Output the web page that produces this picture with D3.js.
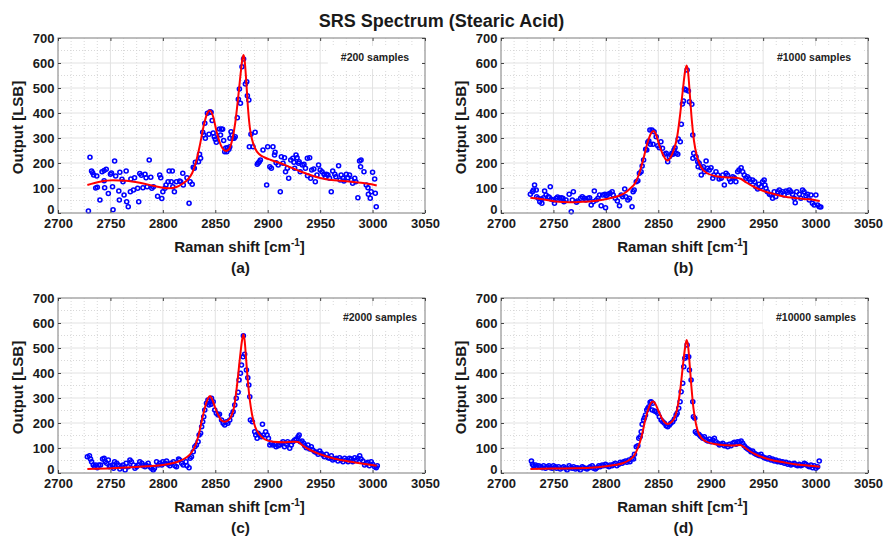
<!DOCTYPE html>
<html><head><meta charset="utf-8">
<script src="https://cdn.jsdelivr.net/npm/d3@7"></script>
<style>
body{margin:0;background:#fff}
svg{display:block}
text{font-family:"Liberation Sans",Arial,sans-serif;font-weight:bold;fill:#1a1a1a}
</style>
</head><body>
<svg id="chart" width="883" height="538"></svg>
<script>
// ---------- data ----------
const chartTitle = "SRS Spectrum (Stearic Acid)";
const xTicks = [2700, 2750, 2800, 2850, 2900, 2950, 3000, 3050];
const yTicks = [0, 100, 200, 300, 400, 500, 600, 700];
const panelLabels = ["(a)", "(b)", "(c)", "(d)"];
const sampleLabels = ["#200 samples", "#1000 samples", "#2000 samples", "#10000 samples"];

const pointsA = [[2729,8],[2730.5,223],[2732,168],[2733,161],[2734,152],[2737,148],[2736,100],[2737.5,103],[2740,52],[2742,165],[2744,170],[2746,175],[2744,129],[2744.5,101],[2748,78],[2750,155],[2751,160],[2752,105],[2752.5,13],[2754,208],[2755,148],[2758,88],[2758.5,52],[2759,163],[2761,135],[2762,125],[2763,72],[2765,168],[2765.5,45],[2767,25],[2769,85],[2769.5,136],[2772,92],[2773,141],[2776,99],[2777,45],[2778,158],[2779.5,151],[2781,101],[2783,155],[2784,141],[2785,105],[2787,212],[2788.5,143],[2789.5,99],[2791,105],[2795,67],[2799,58],[2797,152],[2798,141],[2800,85],[2802,99],[2803,112],[2806,168],[2809,168],[2805,125],[2808,125],[2809.5,105],[2811,85],[2813,125],[2816,128],[2817,125],[2819,159],[2819.5,112],[2823,141],[2825,39],[2826,125],[2828,115],[2829,183],[2830,179],[2831,203],[2834,205],[2835,235],[2836,219],[2838,323],[2839,312],[2840,359],[2840.5,299],[2842.5,399],[2844,315],[2845,405],[2846,403],[2847,370],[2848,320],[2849,305],[2850,295],[2851,283],[2854,336],[2855,312],[2856,336],[2857,335],[2858,290],[2859,245],[2860,260],[2861,245],[2861.6,261],[2863,255],[2863.8,265],[2864,299],[2865,325],[2866,312],[2867,299],[2868,299],[2869,305],[2871,381],[2872,455],[2873,496],[2874,439],[2875.5,585],[2877,616],[2878.7,516],[2880,525],[2880.6,469],[2882,452],[2882.5,265],[2884,315],[2886,265],[2888,323],[2890,195],[2891,200],[2892,205],[2893,212],[2895.5,252],[2899,112],[2900,265],[2902,185],[2903.5,179],[2905,265],[2906.5,232],[2907,243],[2908,201],[2910,192],[2912,85],[2913,225],[2914.6,199],[2916,221],[2917,165],[2918.7,179],[2920,139],[2922,212],[2924,219],[2925,203],[2925.7,179],[2927,232],[2928,221],[2929.5,199],[2930,205],[2931,165],[2933,192],[2934.6,195],[2936,179],[2937.8,219],[2938,149],[2940,221],[2941,139],[2942,172],[2944,176],[2945.4,125],[2947,152],[2948.5,192],[2950,172],[2951.8,165],[2953.7,155],[2955,145],[2956,155],[2957.5,152],[2959,139],[2960.6,85],[2962,168],[2964,155],[2965,145],[2967.6,189],[2969,132],[2970,152],[2971.8,139],[2972.7,128],[2975,155],[2976.5,141],[2978,152],[2979.7,132],[2981,119],[2983,139],[2984,125],[2986,61],[2987.6,208],[2988.6,185],[2989,212],[2991.8,165],[2994,112],[2995.6,101],[2996,75],[2997.8,59],[2998.7,85],[3000,163],[3002,136],[3002.6,79],[3003.5,25]];

const fitA = [[2728,112],[2740,125],[2752,131],[2765,129],[2778,121],[2791,109],[2800,101],[2806,99],[2813,104],[2819,118],[2824,135],[2828,160],[2831,195],[2835,265],[2839,350],[2842,395],[2845,410],[2848,385],[2851,330],[2854,285],[2857,258],[2860,248],[2863,255],[2866,290],[2869,360],[2872,470],[2874.5,570],[2876,620],[2877,632],[2878,610],[2879.5,530],[2881,430],[2883,340],[2885,295],[2888,258],[2892,235],[2897,222],[2903,212],[2913,198],[2922,182],[2932,165],[2942,150],[2951,139],[2961,132],[2970,129],[2980,125],[2989,121],[2999,115],[3004,110]];

const pointsB = [[2728,75],[2730,85],[2731,92],[2732,112],[2733.6,92],[2734,65],[2735.5,59],[2737,45],[2739,39],[2738.5,56],[2740.6,61],[2741.6,88],[2743,72],[2745,65],[2746,63],[2747,105],[2748,55],[2750,52],[2751,39],[2752.7,59],[2754,64],[2756,59],[2757.5,61],[2759,59],[2760,45],[2762,52],[2765,75],[2767,5],[2768,52],[2769,85],[2772,43],[2773,48],[2776,59],[2777.5,65],[2779.5,59],[2781,52],[2783,59],[2784.5,61],[2786,32],[2788,45],[2789,88],[2791,52],[2792.5,59],[2794,72],[2795.5,29],[2797,72],[2799,75],[2799.7,21],[2800.5,69],[2802,75],[2804,79],[2806,85],[2807,72],[2809,59],[2811,48],[2813,29],[2814.6,72],[2816,65],[2818,96],[2819,65],[2821,52],[2822.5,59],[2825,25],[2826,85],[2827,92],[2829,125],[2830.5,129],[2832,159],[2833.6,165],[2834.6,188],[2836,212],[2838,255],[2839,252],[2840,283],[2841,288],[2842,332],[2842.5,275],[2844,332],[2845,275],[2846,325],[2848,305],[2849.5,269],[2851,261],[2852.5,285],[2854,259],[2856,235],[2857.5,239],[2859,205],[2860.5,225],[2862,232],[2863,239],[2864,235],[2865,252],[2866,261],[2867,239],[2868.6,235],[2869,296],[2871,285],[2872,355],[2873,436],[2874,448],[2875,496],[2876.5,492],[2877.5,572],[2878.7,488],[2879.7,445],[2882,435],[2882.9,312],[2883,219],[2883.8,239],[2886,225],[2887.6,205],[2888,185],[2889,199],[2890.8,181],[2891,152],[2893,185],[2894,165],[2895.6,208],[2897,179],[2898.7,172],[2900.3,181],[2902,139],[2903,152],[2905,165],[2906.7,152],[2908,136],[2910,139],[2911.5,152],[2913,112],[2914.6,159],[2916,152],[2917.8,136],[2919,125],[2921,145],[2922.5,141],[2924,125],[2925.7,165],[2927,172],[2929,181],[2930.5,165],[2932,152],[2933.6,139],[2935,145],[2936.8,136],[2938,125],[2940,132],[2942,125],[2943,105],[2944.8,96],[2946,115],[2948,105],[2949.5,125],[2951,132],[2951.7,112],[2952.7,99],[2954,85],[2956,75],[2957.5,72],[2959,59],[2960.6,85],[2962,65],[2964,85],[2965.4,92],[2967,79],[2968.6,85],[2970,72],[2971.8,88],[2973.4,83],[2975,92],[2976.5,85],[2978,75],[2979.7,59],[2980.6,41],[2982,85],[2984.5,75],[2986,59],[2987.6,92],[2989,85],[2990.8,69],[2992.4,75],[2994,52],[2995.6,72],[2997,39],[2998.7,32],[3000.3,72],[3002,32],[3003.5,25],[3005,24]];

const fitB = [[2728,61],[2740,55],[2752,46],[2765,43],[2778,45],[2791,49],[2803,58],[2812,68],[2818,80],[2823,97],[2828,120],[2832,160],[2836,220],[2840,285],[2843,318],[2845.5,328],[2848,312],[2851,270],[2854,238],[2857,215],[2859,210],[2862,225],[2865,255],[2868,305],[2871,400],[2873.5,495],[2875.5,565],[2877,590],[2878.5,560],[2880,480],[2882,370],[2884,290],[2887,225],[2891,182],[2897,158],[2907,146],[2916,142],[2924,141],[2929,136],[2934,122],[2942,103],[2951,87],[2961,75],[2970,66],[2980,60],[2989,56],[2999,52],[3004,48]];

const pointsC = [[2728,65],[2730,69],[2731,56],[2732,45],[2733.6,32],[2735,25],[2736,32],[2737.5,21],[2739,32],[2740.6,32],[2742.5,56],[2744,59],[2745,45],[2746.4,39],[2748,52],[2749,25],[2750,29],[2752,32],[2753,19],[2754,45],[2756,39],[2757.5,32],[2759,16],[2760.6,25],[2762,32],[2764,12],[2765,39],[2767,25],[2768.6,52],[2770,45],[2772,32],[2773.4,19],[2775,25],[2776.5,32],[2778,45],[2780,39],[2781,29],[2783,25],[2784,32],[2786,39],[2787.6,25],[2789,19],[2790.8,12],[2792,19],[2794,45],[2795.6,32],[2797,39],[2799,32],[2800,45],[2802,39],[2803.5,48],[2805,35],[2806.7,29],[2808,39],[2810,45],[2811.5,29],[2813,25],[2815,56],[2816,52],[2818,39],[2819.4,32],[2822,45],[2823,29],[2825,21],[2826,59],[2827.3,65],[2829,85],[2830.5,105],[2832,112],[2833.6,125],[2834.6,152],[2836,159],[2837,185],[2838,205],[2839,225],[2840,252],[2841.6,279],[2843,292],[2844.6,288],[2846.4,299],[2844,272],[2846,275],[2848,285],[2849.5,252],[2851,239],[2852.7,232],[2854,235],[2856,212],[2857.5,199],[2859,192],[2860.6,205],[2862,199],[2863.8,212],[2865.4,232],[2867,245],[2868.6,272],[2870,299],[2871.8,323],[2872.7,372],[2874,399],[2875,432],[2876.5,465],[2878,475],[2876.8,549],[2879.7,412],[2881,381],[2882,352],[2882.9,305],[2883.5,212],[2885.4,205],[2887.6,165],[2888.6,152],[2889.9,139],[2890.8,159],[2892.4,152],[2894,145],[2895,195],[2896,152],[2898,165],[2899.4,152],[2900.7,139],[2902,112],[2903.5,119],[2905,112],[2906.7,115],[2908,105],[2910,109],[2911.5,112],[2913,119],[2914.6,125],[2916,105],[2917.8,115],[2919,125],[2921,99],[2922.5,112],[2924,125],[2925.7,132],[2927.3,136],[2929,145],[2930,152],[2931,125],[2932.7,128],[2934.3,119],[2935.3,109],[2936.8,101],[2938.4,112],[2940,96],[2941.6,105],[2943,92],[2944.8,85],[2946.3,83],[2948,75],[2949.6,88],[2951,79],[2952.7,72],[2954,65],[2956,75],[2957.5,61],[2959,59],[2960.7,69],[2962,52],[2963.8,56],[2965.4,59],[2967,48],[2968.6,61],[2970,52],[2971.8,45],[2973.4,59],[2975,52],[2976.6,45],[2978,59],[2979.7,56],[2981,45],[2983,61],[2984.5,52],[2986,59],[2987.7,69],[2989,56],[2990.8,48],[2992.4,32],[2994,39],[2995.6,43],[2997,29],[2998.7,45],[3000,35],[3002,25],[3003.5,21],[3004.5,29]];

const fitC = [[2728,16],[2752,19],[2770,23],[2785,27],[2800,32],[2810,40],[2816,48],[2822,61],[2827,80],[2831,110],[2834,150],[2838,225],[2841,275],[2843,298],[2845,308],[2847,295],[2850,260],[2853,230],[2856,210],[2859,205],[2862,210],[2865,225],[2868,265],[2871,360],[2873.5,460],[2875.5,530],[2876.8,555],[2878,530],[2879.5,450],[2881,370],[2883,290],[2885,235],[2888,185],[2892,155],[2897,135],[2905,125],[2915,123],[2925,125],[2929,124],[2933,111],[2940,93],[2950,75],[2962,59],[2975,48],[2988,39],[3004,29]];

const pointsD = [[2729,48],[2730,35],[2731,29],[2733,32],[2734.3,25],[2736,29],[2737.5,25],[2739.4,21],[2740.6,29],[2742.5,19],[2744,25],[2745.7,29],[2747,21],[2749,19],[2750,29],[2752,25],[2753,19],[2755,25],[2756.5,16],[2758.4,21],[2759.7,25],[2761.6,19],[2763,12],[2765,29],[2766,21],[2768,19],[2769.2,25],[2771,16],[2772.4,21],[2774,19],[2775.6,12],[2777.5,25],[2778.7,21],[2780.6,19],[2782,16],[2784,21],[2785,25],[2787,29],[2788.3,19],[2790,16],[2791.4,21],[2793.3,29],[2794.6,25],[2796.5,32],[2797.8,29],[2799.7,35],[2801,29],[2803,25],[2804,32],[2806,29],[2807.3,35],[2809,39],[2810.5,29],[2812.4,35],[2813.7,43],[2815.6,39],[2817,45],[2818.7,48],[2820,43],[2822,52],[2823,45],[2825,59],[2826.4,56],[2827.3,75],[2829,105],[2830.5,109],[2831.4,139],[2832.7,145],[2833.7,165],[2834.6,195],[2836,212],[2836.8,221],[2837.8,232],[2839,252],[2840,259],[2841,265],[2842.2,283],[2843.2,285],[2844.8,279],[2844.2,252],[2846.4,248],[2848,245],[2849.5,239],[2851,225],[2852.7,212],[2854.3,205],[2855.9,199],[2857.5,189],[2859,185],[2860.6,192],[2862,199],[2863.8,205],[2865.4,216],[2867,232],[2868,239],[2869.5,259],[2870.8,285],[2871.8,325],[2873.3,359],[2874.3,425],[2875.3,459],[2876.5,465],[2877.5,512],[2879,465],[2879.7,412],[2881.3,372],[2882.9,285],[2883.5,225],[2884.8,219],[2885.4,165],[2886.7,159],[2888.6,155],[2889.9,149],[2890.8,145],[2892.4,139],[2894,145],[2895.6,132],[2897.2,128],[2898.8,136],[2900.3,125],[2902,132],[2903.5,139],[2905,125],[2906.7,119],[2908.3,112],[2909.9,115],[2911.5,119],[2913,109],[2914.6,112],[2916.2,105],[2917.8,115],[2919.4,109],[2921,119],[2922.6,123],[2924.2,115],[2925.7,125],[2927.3,123],[2929,128],[2930.5,119],[2932,109],[2933.7,101],[2935.3,96],[2936.8,92],[2938.4,85],[2940,88],[2941.6,79],[2943.2,75],[2944.8,72],[2946.4,69],[2948,75],[2949.6,65],[2951.2,61],[2952.7,59],[2954.3,56],[2955.9,61],[2957.5,52],[2959,56],[2960.6,48],[2962.2,52],[2963.8,45],[2965.4,48],[2967,43],[2968.6,45],[2970.2,39],[2971.8,43],[2973.4,35],[2975,39],[2976.5,32],[2978.1,35],[2979.7,39],[2981.3,32],[2982.9,29],[2984.5,35],[2986,29],[2987.7,32],[2989.3,39],[2990.8,35],[2992.4,29],[2994,25],[2995.6,32],[2997.2,21],[2998.7,29],[3000.3,19],[3002,25],[3003.5,48]];

const fitD = [[2728,16],[2752,18],[2770,19],[2785,21],[2800,27],[2810,33],[2816,39],[2822,51],[2827,70],[2831,105],[2834,145],[2838,220],[2841,262],[2843,280],[2845,286],[2847,278],[2850,250],[2853,222],[2856,203],[2859,196],[2862,202],[2865,217],[2868,255],[2871,335],[2873.5,430],[2875.5,500],[2877,532],[2878.5,505],[2880,430],[2881.5,350],[2883.5,260],[2886,195],[2889,153],[2895,127],[2905,115],[2915,111],[2922,110],[2928,112],[2932,103],[2937,88],[2943,74],[2950,62],[2958,52],[2968,44],[2980,35],[2994,29],[3004,25]];

const pointSets = [pointsA, pointsB, pointsC, pointsD];
const fitSets = [fitA, fitB, fitC, fitD];

// ---------- layout ----------
const layout = [
  {left: 58,  top: 38,  annoX: 375},
  {left: 501, top: 38,  annoX: 814},
  {left: 58,  top: 298, annoX: 380},
  {left: 501, top: 298, annoX: 816}
];
const W = 367, H = 175;

const svg = d3.select("#chart");
svg.append("rect").attr("width", 883).attr("height", 538).attr("fill", "#fff");

svg.append("text").attr("x", 441.5).attr("y", 20.5).attr("dy", "0.35em")
  .attr("text-anchor", "middle").style("font-size", "18px").text(chartTitle);

const x = d3.scaleLinear().domain([2700, 3050]).range([0, W]);
const y = d3.scaleLinear().domain([0, 700]).range([H, 0]);
const minorX = d3.range(2700, 3050.01, 12.5).filter(v => v % 50 !== 0);
const minorY = d3.range(50, 700, 100);

layout.forEach((L, i) => {
  const g = svg.append("g").attr("transform", `translate(${L.left},${L.top})`);
  g.append("rect").attr("width", W).attr("height", H).attr("fill", "#fff");

  // minor grid
  g.selectAll(".mx").data(minorX).join("line")
    .attr("x1", d => x(d)).attr("x2", d => x(d)).attr("y1", 0).attr("y2", H)
    .attr("stroke", "#cfcfcf").attr("stroke-width", 0.8).attr("stroke-dasharray", "1,2");
  g.selectAll(".my").data(minorY).join("line")
    .attr("y1", d => y(d)).attr("y2", d => y(d)).attr("x1", 0).attr("x2", W)
    .attr("stroke", "#cfcfcf").attr("stroke-width", 0.8).attr("stroke-dasharray", "1,2");
  // major grid
  g.selectAll(".gx").data(xTicks).join("line")
    .attr("x1", d => x(d)).attr("x2", d => x(d)).attr("y1", 0).attr("y2", H)
    .attr("stroke", "#e2e2e2").attr("stroke-width", 1);
  g.selectAll(".gy").data(yTicks).join("line")
    .attr("y1", d => y(d)).attr("y2", d => y(d)).attr("x1", 0).attr("x2", W)
    .attr("stroke", "#e2e2e2").attr("stroke-width", 1);

  // annotation box
  const ann = g.append("g");
  const box = ann.append("rect").attr("fill", "#fff");
  const at = ann.append("text").attr("x", L.annoX - L.left).attr("y", 19.5).attr("dy", "0.35em")
    .attr("text-anchor", "middle").style("font-size", "10.5px").style("fill", "#222")
    .text(sampleLabels[i]);
  const tw = at.node().getComputedTextLength();
  const bx0 = L.annoX - L.left - tw / 2 - 13;
  const bx1 = Math.min(W - 1, L.annoX - L.left + tw / 2 + 13);
  box.attr("x", bx0).attr("y", 8).attr("width", bx1 - bx0).attr("height", 23);

  // clip
  const cid = "clip" + i;
  g.append("clipPath").attr("id", cid).append("rect").attr("x", -3).attr("y", -3).attr("width", W + 6).attr("height", H + 6);
  const plot = g.append("g").attr("clip-path", `url(#${cid})`);

  plot.selectAll("circle").data(pointSets[i]).join("circle")
    .attr("cx", d => x(d[0])).attr("cy", d => y(d[1])).attr("r", 2)
    .attr("fill", "none").attr("stroke", "#0000ff").attr("stroke-width", 1.6);

  const line = d3.line().x(d => x(d[0])).y(d => y(d[1])).curve(d3.curveMonotoneX);
  plot.append("path").datum(fitSets[i]).attr("d", line)
    .attr("fill", "none").attr("stroke", "#ff0000").attr("stroke-width", 2);

  // frame
  g.append("rect").attr("width", W).attr("height", H).attr("fill", "none")
    .attr("stroke", "#8a8a8a").attr("stroke-width", 1);

  // axes
  const ax = d3.axisBottom(x).tickValues(xTicks).tickSizeInner(-3).tickSizeOuter(0).tickPadding(5.5).tickFormat(d3.format("d"));
  const gx = g.append("g").attr("transform", `translate(0,${H})`).call(ax);
  const ay = d3.axisLeft(y).tickValues(yTicks).tickSizeInner(-3).tickSizeOuter(0).tickPadding(3.5).tickFormat(d3.format("d"));
  const gy = g.append("g").call(ay);
  const axT = d3.axisTop(x).tickValues(xTicks).tickSizeInner(-3).tickSizeOuter(0).tickFormat("");
  const gt = g.append("g").call(axT);
  const ayR = d3.axisRight(y).tickValues(yTicks).tickSizeInner(-3).tickSizeOuter(0).tickFormat("");
  const gr = g.append("g").attr("transform", `translate(${W},0)`).call(ayR);
  [gx, gy, gt, gr].forEach(a => {
    a.select(".domain").remove();
    a.selectAll(".tick line").attr("stroke", "#444");
    a.selectAll(".tick text").style("font-size", "13px").style("font-family", '"Liberation Sans",Arial,sans-serif')
      .style("font-weight", "bold").attr("fill", "#1a1a1a");
  });
  gy.selectAll(".tick text").filter(d => d === 0).attr("dy", "0.02em");

  // axis labels
  g.append("text").attr("transform", `translate(-40,${H / 2 + 2}) rotate(-90)`).attr("dy", "0.35em")
    .attr("text-anchor", "middle").style("font-size", "15px").text("Output [LSB]");
  const xl = g.append("text").attr("x", W / 2 - 2).attr("y", H + 34).attr("dy", "0.35em")
    .attr("text-anchor", "middle").style("font-size", "15px");
  xl.append("tspan").text("Raman shift [cm");
  xl.append("tspan").attr("dy", "-6").style("font-size", "10px").text("-1");
  xl.append("tspan").attr("dy", "6").text("]");
  g.append("text").attr("x", W / 2 - 1).attr("y", H + 55).attr("dy", "0.35em")
    .attr("text-anchor", "middle").style("font-size", "15.5px").text(panelLabels[i]);
});
</script>
</body></html>
